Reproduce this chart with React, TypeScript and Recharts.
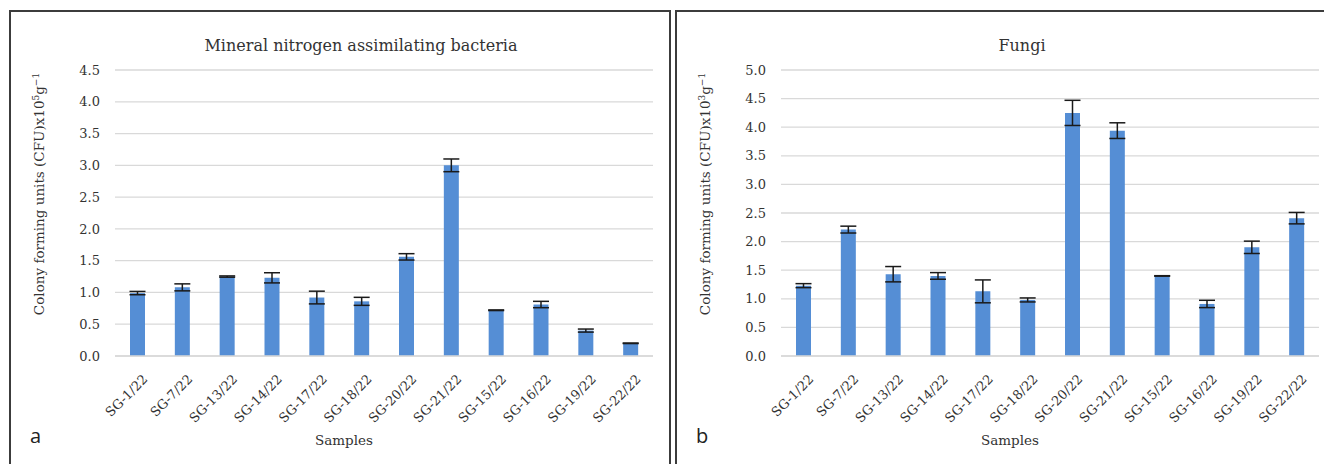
import { Bar, BarChart, CartesianGrid, ErrorBar, XAxis, YAxis } from "recharts";

const samples = [
  "SG-1/22", "SG-7/22", "SG-13/22", "SG-14/22", "SG-17/22", "SG-18/22",
  "SG-20/22", "SG-21/22", "SG-15/22", "SG-16/22", "SG-19/22", "SG-22/22",
];

// mineral nitrogen assimilating bacteria, x10^5 CFU/g
const bacteriaCfu = [0.99, 1.08, 1.25, 1.23, 0.92, 0.86, 1.56, 3.0, 0.72, 0.81, 0.4, 0.2];
const bacteriaSd = [0.026, 0.055, 0.01, 0.08, 0.1, 0.063, 0.05, 0.1, 0.005, 0.05, 0.024, 0.004];

// fungi, x10^3 CFU/g
const fungiCfu = [1.23, 2.21, 1.43, 1.4, 1.13, 0.98, 4.25, 3.94, 1.4, 0.91, 1.9, 2.41];
const fungiSd = [0.035, 0.06, 0.134, 0.058, 0.2, 0.035, 0.22, 0.137, 0.004, 0.064, 0.108, 0.1];

const bacteriaTicks = [0, 0.5, 1, 1.5, 2, 2.5, 3, 3.5, 4, 4.5];
const fungiTicks = [0, 0.5, 1, 1.5, 2, 2.5, 3, 3.5, 4, 4.5, 5];

const W = 660;
const H = 464;
const margin = { top: 70, right: 17, bottom: 18, left: 45 };
const serif = "'DejaVu Serif', serif";
const ink = "#333";
const grid = "#d9d9d9";

const rows = (values: number[], sd: number[]) =>
  samples.map((name, i) => ({ name, value: values[i], sd: sd[i] }));

function SampleTick(props: any) {
  const { x, y, payload } = props;
  return (
    <g transform={`translate(${x + 11},${y + 24})`}>
      <text transform="rotate(-45)" textAnchor="end" fontFamily={serif} fontSize={13} fill={ink}>
        {payload.value}
      </text>
    </g>
  );
}

type PanelProps = {
  left: number;
  letter: string;
  title: string;
  titleX: number;
  exp: string;
  ticks: number[];
  data: { name: string; value: number; sd: number }[];
};

function Panel({ left, letter, title, titleX, exp, ticks, data }: PanelProps) {
  return (
    <div style={{ position: "absolute", left, top: 0, width: W, height: H }}>
      <BarChart width={W} height={H} data={data} margin={margin} barSize={15}>
        <CartesianGrid vertical={false} stroke={grid} strokeWidth={1.3} />
        <XAxis
          dataKey="name"
          interval={0}
          height={90}
          axisLine={{ stroke: grid, strokeWidth: 1.3 }}
          tickLine={false}
          tickSize={0}
          tickMargin={0}
          tick={<SampleTick />}
        />
        <YAxis
          width={60}
          domain={[0, ticks[ticks.length - 1]]}
          ticks={ticks}
          interval={0}
          tickFormatter={(v: number) => v.toFixed(1)}
          axisLine={false}
          tickLine={false}
          tickSize={0}
          tickMargin={15}
          tick={{ fontFamily: serif, fontSize: 13, fill: ink }}
        />
        <Bar dataKey="value" fill="#558ed5" isAnimationActive={false}>
          <ErrorBar dataKey="sd" direction="y" width={8} stroke="#1a1a1a" strokeWidth={1.5} isAnimationActive={false} />
        </Bar>
      </BarChart>
      <svg width={W} height={H} style={{ position: "absolute", left: 0, top: 0, pointerEvents: "none" }}>
        <text x={titleX} y={51} textAnchor="middle" fontFamily={serif} fontSize={16} fill={ink}>
          {title}
        </text>
        <text
          x={34}
          y={194}
          transform="rotate(-90 34 194)"
          textAnchor="middle"
          fontFamily={serif}
          fontSize={13.5}
          fill={ink}
        >
          Colony forming units (CFU)x10
          <tspan dy={-5} fontSize={9}>{exp}</tspan>
          <tspan dy={5}>g</tspan>
          <tspan dy={-5} fontSize={9}>−1</tspan>
        </text>
        <text x={334} y={445} textAnchor="middle" fontFamily={serif} fontSize={13.5} fill={ink}>
          Samples
        </text>
        <text x={20} y={443} fontFamily="'Open Sans', sans-serif" fontSize={20} fill="#222">
          {letter}
        </text>
      </svg>
    </div>
  );
}

export default function App() {
  return (
    <div style={{ position: "absolute", left: 0, top: 0, width: 1324, height: 464, overflow: "hidden", background: "#fff" }}>
      <div
        style={{
          position: "absolute",
          left: 9,
          top: 10,
          width: 662,
          height: 500,
          boxSizing: "border-box",
          border: "2px solid #3c3c3c",
          borderBottom: "none",
        }}
      />
      <div
        style={{
          position: "absolute",
          left: 675,
          top: 10,
          width: 700,
          height: 500,
          boxSizing: "border-box",
          borderTop: "2px solid #3c3c3c",
          borderLeft: "2px solid #3c3c3c",
        }}
      />
      <Panel
        left={10}
        letter="a"
        title="Mineral nitrogen assimilating bacteria"
        titleX={351}
        exp="5"
        ticks={bacteriaTicks}
        data={rows(bacteriaCfu, bacteriaSd)}
      />
      <Panel
        left={676}
        letter="b"
        title="Fungi"
        titleX={346}
        exp="3"
        ticks={fungiTicks}
        data={rows(fungiCfu, fungiSd)}
      />
    </div>
  );
}
